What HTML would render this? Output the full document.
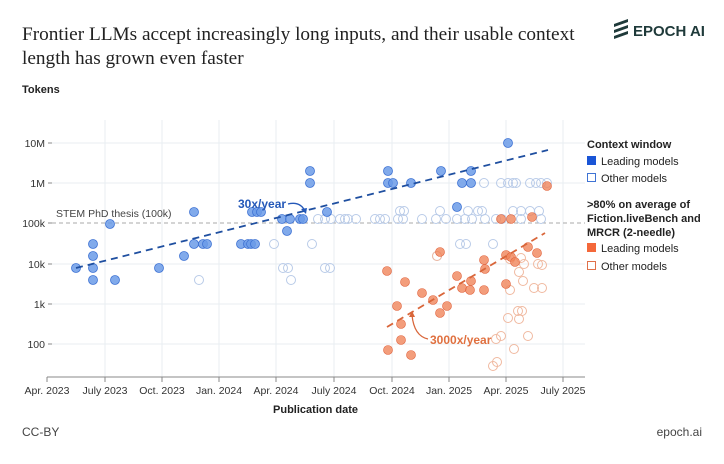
<!DOCTYPE html><html><head><style>body{margin:0;background:#fff}svg{display:block;font-family:"Liberation Sans",sans-serif}</style></head><body>
<svg width="724" height="464" viewBox="0 0 724 464">
<text x="22" y="40" font-family="Liberation Serif,serif" font-size="19.3" fill="#222">Frontier LLMs accept increasingly long inputs, and their usable context</text>
<text x="22" y="64" font-family="Liberation Serif,serif" font-size="19.3" fill="#222">length has grown even faster</text>
<g fill="#1f3a3a"><path d="M614 24l14-5v3l-14 5zM614 30l14-5v3l-14 5zM614 36l14-5v3l-14 5z"/></g>
<text x="633" y="36" font-size="15" font-weight="bold" fill="#1f3a3a">EPOCH AI</text>
<text x="22" y="93" font-size="11" font-weight="bold" fill="#222">Tokens</text>
<g stroke="#e8edf2" stroke-width="1">
<line x1="105" y1="120" x2="105" y2="377"/><line x1="162" y1="120" x2="162" y2="377"/><line x1="219" y1="120" x2="219" y2="377"/><line x1="276" y1="120" x2="276" y2="377"/><line x1="334" y1="120" x2="334" y2="377"/><line x1="392" y1="120" x2="392" y2="377"/><line x1="449" y1="120" x2="449" y2="377"/><line x1="506" y1="120" x2="506" y2="377"/><line x1="563" y1="120" x2="563" y2="377"/>
<line x1="52" y1="143" x2="585" y2="143"/><line x1="52" y1="183" x2="585" y2="183"/><line x1="52" y1="264" x2="585" y2="264"/><line x1="52" y1="304" x2="585" y2="304"/><line x1="52" y1="344" x2="585" y2="344"/>
</g>
<line x1="52" y1="223" x2="585" y2="223" stroke="#aaa" stroke-dasharray="4,3"/>
<text x="56" y="217" font-size="10.5" fill="#444">STEM PhD thesis (100k)</text>
<line x1="47" y1="377" x2="585" y2="377" stroke="#888"/>
<g stroke="#888"><line x1="47" y1="377" x2="47" y2="382"/><line x1="105" y1="377" x2="105" y2="382"/><line x1="162" y1="377" x2="162" y2="382"/><line x1="219" y1="377" x2="219" y2="382"/><line x1="276" y1="377" x2="276" y2="382"/><line x1="334" y1="377" x2="334" y2="382"/><line x1="392" y1="377" x2="392" y2="382"/><line x1="449" y1="377" x2="449" y2="382"/><line x1="506" y1="377" x2="506" y2="382"/><line x1="563" y1="377" x2="563" y2="382"/>
<line x1="48" y1="143" x2="52" y2="143"/><line x1="48" y1="183" x2="52" y2="183"/><line x1="48" y1="223" x2="52" y2="223"/><line x1="48" y1="264" x2="52" y2="264"/><line x1="48" y1="304" x2="52" y2="304"/><line x1="48" y1="344" x2="52" y2="344"/></g>
<g font-size="10.5" fill="#333" text-anchor="end"><text x="45" y="147">10M</text><text x="45" y="187">1M</text><text x="45" y="227">100k</text><text x="45" y="268">10k</text><text x="45" y="308">1k</text><text x="45" y="348">100</text></g>
<g font-size="10.5" fill="#333" text-anchor="middle"><text x="47" y="394">Apr. 2023</text><text x="105" y="394">July 2023</text><text x="162" y="394">Oct. 2023</text><text x="219" y="394">Jan. 2024</text><text x="276" y="394">Apr. 2024</text><text x="334" y="394">July 2024</text><text x="392" y="394">Oct. 2024</text><text x="449" y="394">Jan. 2025</text><text x="506" y="394">Apr. 2025</text><text x="563" y="394">July 2025</text></g>
<text x="358" y="413" font-size="11" font-weight="bold" fill="#222" text-anchor="end">Publication date</text>
<g fill="none" stroke="#b9cbe8" stroke-width="1">
<circle cx="199" cy="280" r="4.5"/><circle cx="274" cy="244" r="4.5"/><circle cx="283" cy="268" r="4.5"/><circle cx="288" cy="268" r="4.5"/><circle cx="291" cy="280" r="4.5"/><circle cx="312" cy="244" r="4.5"/><circle cx="318" cy="219" r="4.5"/><circle cx="325" cy="219" r="4.5"/><circle cx="325" cy="268" r="4.5"/><circle cx="330" cy="268" r="4.5"/><circle cx="331" cy="219" r="4.5"/><circle cx="340" cy="219" r="4.5"/><circle cx="345" cy="219" r="4.5"/><circle cx="348" cy="219" r="4.5"/><circle cx="356" cy="219" r="4.5"/>
<circle cx="375" cy="219" r="4.5"/><circle cx="380" cy="219" r="4.5"/><circle cx="385" cy="219" r="4.5"/><circle cx="398" cy="219" r="4.5"/><circle cx="403" cy="219" r="4.5"/><circle cx="422" cy="219" r="4.5"/><circle cx="436" cy="219" r="4.5"/><circle cx="446" cy="219" r="4.5"/><circle cx="457" cy="219" r="4.5"/><circle cx="465" cy="219" r="4.5"/><circle cx="472" cy="219" r="4.5"/><circle cx="485" cy="219" r="4.5"/><circle cx="496" cy="219" r="4.5"/><circle cx="502" cy="219" r="4.5"/><circle cx="521" cy="219" r="4.5"/><circle cx="541" cy="219" r="4.5"/>
<circle cx="400" cy="211" r="4.5"/><circle cx="404" cy="211" r="4.5"/><circle cx="440" cy="211" r="4.5"/><circle cx="468" cy="211" r="4.5"/><circle cx="478" cy="211" r="4.5"/><circle cx="482" cy="211" r="4.5"/><circle cx="513" cy="211" r="4.5"/><circle cx="521" cy="211" r="4.5"/><circle cx="530" cy="211" r="4.5"/><circle cx="539" cy="211" r="4.5"/>
<circle cx="484" cy="183" r="4.5"/><circle cx="501" cy="183" r="4.5"/><circle cx="508" cy="183" r="4.5"/><circle cx="513" cy="183" r="4.5"/><circle cx="516" cy="183" r="4.5"/><circle cx="530" cy="183" r="4.5"/><circle cx="536" cy="183" r="4.5"/><circle cx="541" cy="183" r="4.5"/><circle cx="547" cy="183" r="4.5"/>
<circle cx="460" cy="244" r="4.5"/><circle cx="466" cy="244" r="4.5"/><circle cx="493" cy="244" r="4.5"/><circle cx="437" cy="256" r="4.5"/>
</g>
<g fill="#6b9be8" stroke="#3f73d4" stroke-width="0.8" fill-opacity="0.85">
<circle cx="76" cy="268" r="4.5"/><circle cx="93" cy="244" r="4.5"/><circle cx="93" cy="256" r="4.5"/><circle cx="93" cy="268" r="4.5"/><circle cx="93" cy="280" r="4.5"/><circle cx="110" cy="224" r="4.5"/><circle cx="115" cy="280" r="4.5"/><circle cx="159" cy="268" r="4.5"/><circle cx="184" cy="256" r="4.5"/><circle cx="194" cy="244" r="4.5"/><circle cx="194" cy="212" r="4.5"/><circle cx="203" cy="244" r="4.5"/><circle cx="207" cy="244" r="4.5"/><circle cx="241" cy="244" r="4.5"/><circle cx="248" cy="244" r="4.5"/><circle cx="251" cy="244" r="4.5"/><circle cx="255" cy="244" r="4.5"/><circle cx="252" cy="212" r="4.5"/><circle cx="257" cy="212" r="4.5"/><circle cx="261" cy="212" r="4.5"/><circle cx="282" cy="219" r="4.5"/><circle cx="287" cy="231" r="4.5"/><circle cx="290" cy="219" r="4.5"/><circle cx="300" cy="219" r="4.5"/><circle cx="303" cy="219" r="4.5"/><circle cx="310" cy="171" r="4.5"/><circle cx="310" cy="183" r="4.5"/><circle cx="327" cy="212" r="4.5"/>
<circle cx="388" cy="171" r="4.5"/><circle cx="388" cy="183" r="4.5"/><circle cx="393" cy="183" r="4.5"/><circle cx="411" cy="183" r="4.5"/><circle cx="441" cy="171" r="4.5"/><circle cx="462" cy="183" r="4.5"/><circle cx="471" cy="183" r="4.5"/><circle cx="471" cy="171" r="4.5"/><circle cx="457" cy="207" r="4.5"/><circle cx="508" cy="143" r="4.5"/>
</g>
<line x1="76" y1="268" x2="548" y2="150" stroke="#1f4fa0" stroke-width="1.8" stroke-dasharray="7,5"/>
<text x="238" y="208" font-size="12" font-weight="bold" fill="#2458b8">30x/year</text>
<path d="M288 204q12-3 17 7" fill="none" stroke="#2458b8" stroke-width="1.3"/><path d="M301 209l5 5 1-6z" fill="#2458b8"/>
<g fill="none" stroke="#f0b9a0" stroke-width="1">
<circle cx="510" cy="259" r="4.5"/><circle cx="521" cy="258" r="4.5"/><circle cx="524" cy="264" r="4.5"/><circle cx="538" cy="264" r="4.5"/><circle cx="542" cy="265" r="4.5"/><circle cx="519" cy="272" r="4.5"/><circle cx="523" cy="281" r="4.5"/><circle cx="534" cy="288" r="4.5"/><circle cx="542" cy="288" r="4.5"/><circle cx="510" cy="290" r="4.5"/><circle cx="518" cy="311" r="4.5"/><circle cx="522" cy="311" r="4.5"/><circle cx="519" cy="319" r="4.5"/><circle cx="508" cy="318" r="4.5"/><circle cx="528" cy="336" r="4.5"/><circle cx="496" cy="339" r="4.5"/><circle cx="501" cy="336" r="4.5"/><circle cx="514" cy="349" r="4.5"/><circle cx="493" cy="366" r="4.5"/><circle cx="497" cy="362" r="4.5"/><circle cx="437" cy="256" r="4.5"/>
</g>
<g fill="#f0845a" stroke="#e0603a" stroke-width="0.6" fill-opacity="0.8">
<circle cx="387" cy="271" r="4.5"/><circle cx="405" cy="282" r="4.5"/><circle cx="422" cy="293" r="4.5"/><circle cx="433" cy="300" r="4.5"/><circle cx="447" cy="306" r="4.5"/><circle cx="440" cy="313" r="4.5"/><circle cx="397" cy="306" r="4.5"/><circle cx="401" cy="324" r="4.5"/><circle cx="388" cy="350" r="4.5"/><circle cx="401" cy="340" r="4.5"/><circle cx="411" cy="355" r="4.5"/><circle cx="440" cy="252" r="4.5"/><circle cx="457" cy="276" r="4.5"/><circle cx="462" cy="288" r="4.5"/><circle cx="470" cy="290" r="4.5"/><circle cx="471" cy="281" r="4.5"/><circle cx="484" cy="290" r="4.5"/><circle cx="485" cy="269" r="4.5"/><circle cx="484" cy="260" r="4.5"/><circle cx="506" cy="255" r="4.5"/><circle cx="511" cy="257" r="4.5"/><circle cx="515" cy="262" r="4.5"/><circle cx="528" cy="247" r="4.5"/><circle cx="537" cy="253" r="4.5"/><circle cx="506" cy="284" r="4.5"/><circle cx="501" cy="219" r="4.5"/><circle cx="511" cy="219" r="4.5"/><circle cx="532" cy="217" r="4.5"/><circle cx="547" cy="186" r="4.5"/>
</g>
<line x1="387" y1="327" x2="545" y2="233" stroke="#d9663a" stroke-width="1.8" stroke-dasharray="7,5"/>
<text x="430" y="344" font-size="12" font-weight="bold" fill="#e0703f">3000x/year</text>
<path d="M428 339q-14-3-16-24" fill="none" stroke="#d9663a" stroke-width="1.3"/><path d="M409 317l3-6 3 6z" fill="#d9663a"/>
<g font-size="11" fill="#222">
<text x="587" y="148" font-weight="bold">Context window</text>
<rect x="587" y="156" width="9" height="9" fill="#1a55d6"/><text x="601" y="165">Leading models</text>
<rect x="587.5" y="173.5" width="8" height="8" fill="none" stroke="#3f73d4"/><text x="601" y="182">Other models</text>
<text x="587" y="208" font-weight="bold">&gt;80% on average of</text>
<text x="587" y="222" font-weight="bold">Fiction.liveBench and</text>
<text x="587" y="236" font-weight="bold">MRCR (2-needle)</text>
<rect x="587" y="243" width="9" height="9" fill="#f4683a"/><text x="601" y="252">Leading models</text>
<rect x="587.5" y="261.5" width="8" height="8" fill="none" stroke="#e0704a"/><text x="601" y="270">Other models</text>
</g>
<text x="22" y="436" font-size="12" fill="#444">CC-BY</text>
<text x="702" y="436" font-size="12" fill="#444" text-anchor="end">epoch.ai</text>
</svg></body></html>
